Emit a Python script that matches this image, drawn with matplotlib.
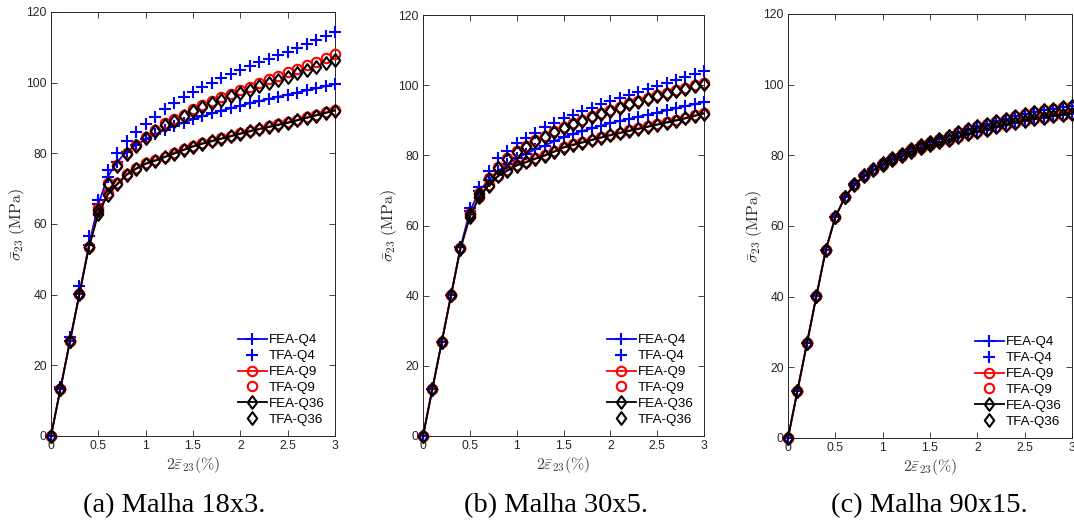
import matplotlib
matplotlib.use("Agg")
import matplotlib.pyplot as plt
from matplotlib.path import Path

plt.rcParams['font.family'] = ['Liberation Sans', 'DejaVu Sans']
plt.rcParams['mathtext.fontset'] = 'cm'

# ---------------- data ----------------
strain = [0.0, 0.1, 0.2, 0.3, 0.4, 0.5, 0.6, 0.7, 0.8, 0.9, 1.0,
          1.1, 1.2, 1.3, 1.4, 1.5, 1.6, 1.7, 1.8, 1.9, 2.0,
          2.1, 2.2, 2.3, 2.4, 2.5, 2.6, 2.7, 2.8, 2.9, 3.0]

# (a) Malha 18x3
a_fea_q4 = [0, 13.4, 26.8, 40.2, 54.0, 65.6, 73.4, 77.6, 80.5, 82.4, 84.0,
            85.4, 86.6, 87.7, 88.7, 89.7, 90.5, 91.3, 92.1, 92.8, 93.5,
            94.2, 94.8, 95.4, 96.0, 96.6, 97.2, 97.8, 98.4, 99.0, 99.6]
a_tfa_q4 = [0, 13.8, 28.1, 42.4, 56.5, 66.8, 75.3, 80.0, 83.6, 86.1, 88.3,
            90.4, 92.5, 94.2, 95.9, 97.5, 98.8, 100.0, 101.2, 102.4, 103.6,
            104.7, 105.8, 106.8, 107.8, 108.8, 109.9, 110.9, 112.0, 113.1, 114.2]
a_fea_q9 = [0, 13.4, 26.8, 40.2, 53.5, 63.5, 68.7, 71.5, 74.2, 75.8, 77.2,
            78.1, 79.1, 80.2, 81.1, 82.1, 82.9, 83.6, 84.3, 85.0, 85.7,
            86.4, 87.0, 87.6, 88.2, 88.8, 89.5, 90.2, 90.9, 91.6, 92.3]
a_tfa_q9 = [0, 13.4, 26.8, 40.2, 53.6, 64.5, 71.7, 76.7, 80.2, 82.4, 84.7,
            86.6, 88.5, 89.6, 90.9, 92.6, 93.7, 94.8, 95.9, 96.9, 97.9,
            98.9, 99.9, 100.9, 101.9, 102.9, 103.9, 104.9, 105.9, 107.0, 108.0]
a_fea_q36 = [0, 13.4, 26.8, 40.2, 53.4, 62.9, 68.3, 71.2, 73.9, 75.6, 77.0,
             77.9, 78.9, 79.9, 80.9, 81.9, 82.7, 83.4, 84.1, 84.8, 85.5,
             86.2, 86.8, 87.4, 88.0, 88.6, 89.3, 90.0, 90.7, 91.4, 92.1]
a_tfa_q36 = [0, 13.4, 26.8, 40.2, 53.5, 64.0, 71.4, 76.4, 79.9, 82.1, 84.4,
             86.3, 88.1, 89.2, 90.5, 92.1, 93.2, 94.2, 95.2, 96.2, 97.1,
             98.0, 99.0, 99.9, 100.8, 101.7, 102.7, 103.6, 104.5, 105.5, 106.4]

# (b) Malha 30x5
b_fea_q4 = [0, 13.4, 26.8, 40.2, 53.8, 64.0, 69.8, 73.0, 75.5, 77.5, 79.1,
            80.5, 81.7, 82.8, 84.0, 85.2, 86.1, 86.9, 87.7, 88.5, 89.2,
            89.8, 90.4, 91.0, 91.6, 92.2, 92.8, 93.4, 94.0, 94.6, 95.2]
b_tfa_q4 = [0, 13.4, 26.9, 40.3, 54.0, 64.9, 71.1, 75.5, 79.2, 81.2, 83.4,
            85.0, 86.5, 88.0, 89.1, 90.6, 91.6, 92.6, 93.6, 94.5, 95.4,
            96.3, 97.2, 98.1, 98.9, 99.8, 100.6, 101.5, 102.4, 103.3, 104.1]
b_fea_q9 = [0, 13.4, 26.8, 40.2, 53.5, 62.7, 68.2, 71.6, 74.2, 75.8, 77.3,
            78.2, 79.2, 80.1, 81.2, 82.4, 83.1, 83.8, 84.5, 85.2, 85.9,
            86.5, 87.1, 87.7, 88.3, 88.9, 89.5, 90.1, 90.7, 91.4, 92.1]
b_tfa_q9 = [0, 13.4, 26.8, 40.2, 53.6, 63.5, 69.2, 73.6, 76.8, 79.2, 81.2,
            82.7, 84.4, 85.5, 87.0, 88.0, 89.1, 90.1, 91.1, 92.1, 93.0,
            93.9, 94.8, 95.6, 96.4, 97.2, 97.9, 98.6, 99.3, 100.0, 100.7]
b_fea_q36 = [0, 13.4, 26.8, 40.2, 53.4, 62.5, 68.0, 71.4, 74.0, 75.6, 77.1,
             78.0, 79.0, 79.9, 81.0, 82.2, 82.9, 83.6, 84.3, 85.0, 85.7,
             86.3, 86.9, 87.5, 88.1, 88.7, 89.3, 89.9, 90.5, 91.2, 91.9]
b_tfa_q36 = [0, 13.4, 26.8, 40.2, 53.5, 63.2, 68.9, 73.3, 76.5, 78.9, 80.9,
             82.4, 84.1, 85.2, 86.7, 87.7, 88.8, 89.8, 90.8, 91.8, 92.7,
             93.6, 94.5, 95.3, 96.1, 96.9, 97.6, 98.3, 99.0, 99.7, 100.3]

# (c) Malha 90x15
c_fea_q4 = [0, 13.4, 26.8, 40.2, 53.3, 62.5, 68.1, 71.6, 74.1, 75.8, 77.4,
            78.7, 79.8, 81.0, 82.0, 82.9, 83.7, 84.4, 85.2, 86.0, 86.7,
            87.3, 88.0, 88.6, 89.2, 89.7, 90.2, 90.7, 91.1, 91.5, 91.8]
c_tfa_q4 = [0, 13.4, 26.8, 40.2, 53.3, 62.6, 68.3, 71.8, 74.4, 76.1, 77.8,
            79.2, 80.4, 81.7, 82.8, 83.8, 84.7, 85.6, 86.5, 87.4, 88.2,
            88.9, 89.7, 90.4, 91.0, 91.7, 92.2, 92.7, 93.2, 93.6, 94.0]
c_fea_q9 = [0, 13.4, 26.8, 40.2, 53.3, 62.5, 68.1, 71.6, 74.1, 75.8, 77.4,
            78.7, 79.8, 81.0, 82.0, 82.9, 83.7, 84.4, 85.2, 86.0, 86.7,
            87.3, 88.0, 88.6, 89.2, 89.7, 90.2, 90.7, 91.1, 91.5, 91.8]
c_tfa_q9 = [0, 13.4, 26.8, 40.2, 53.3, 62.6, 68.3, 71.8, 74.4, 76.1, 77.8,
            79.2, 80.4, 81.7, 82.8, 83.8, 84.7, 85.6, 86.5, 87.4, 88.2,
            88.9, 89.7, 90.4, 91.0, 91.7, 92.2, 92.7, 93.2, 93.6, 94.0]
c_fea_q36 = [0, 13.4, 26.8, 40.2, 53.3, 62.5, 68.1, 71.6, 74.1, 75.8, 77.4,
             78.7, 79.8, 81.0, 82.0, 82.9, 83.7, 84.4, 85.2, 86.0, 86.7,
             87.3, 88.0, 88.6, 89.2, 89.7, 90.2, 90.7, 91.1, 91.5, 91.8]
c_tfa_q36 = [0, 13.4, 26.8, 40.2, 53.3, 62.6, 68.3, 71.8, 74.4, 76.1, 77.8,
             79.2, 80.4, 81.7, 82.8, 83.8, 84.7, 85.6, 86.5, 87.4, 88.2,
             88.9, 89.7, 90.4, 91.0, 91.7, 92.2, 92.7, 93.2, 93.6, 94.0]

labels = ['FEA-Q4', 'TFA-Q4', 'FEA-Q9', 'TFA-Q9', 'FEA-Q36', 'TFA-Q36']
captions = ['(a) Malha 18x3.', '(b) Malha 30x5.', '(c) Malha 90x15.']
x_ticks = [0, 0.5, 1, 1.5, 2, 2.5, 3]
x_ticklabels = ['0', '0.5', '1', '1.5', '2', '2.5', '3']
y_ticks = [0, 20, 40, 60, 80, 100, 120]

panels = [
    [a_fea_q4, a_tfa_q4, a_fea_q9, a_tfa_q9, a_fea_q36, a_tfa_q36],
    [b_fea_q4, b_tfa_q4, b_fea_q9, b_tfa_q9, b_fea_q36, b_tfa_q36],
    [c_fea_q4, c_tfa_q4, c_fea_q9, c_tfa_q9, c_fea_q36, c_tfa_q36],
]

# ---------------- styling ----------------
diamond = Path([(0, 1), (0.74, 0), (0, -1), (-0.74, 0), (0, 1)],
               [Path.MOVETO, Path.LINETO, Path.LINETO, Path.LINETO,
                Path.CLOSEPOLY])
colors = ['#0000ff', '#0000ff', '#ff0000', '#ff0000', '#000000', '#000000']
markers = ['+', '+', 'o', 'o', diamond, diamond]
msizes = [8.5, 8.5, 6.8, 6.8, 9.2, 9.2]
is_line = [True, False, True, False, True, False]
txt_col = '#262626'

fig = plt.figure(figsize=(10.74, 5.29), dpi=100)
W, H = 1074.0, 529.0
boxes = [(51, 12, 335, 436), (423, 15, 704, 436), (788, 14, 1072, 438)]
cap_x = [174, 556, 929]

for pi, (series, box) in enumerate(zip(panels, boxes)):
    l, t, r, b = box
    ax = fig.add_axes([l / W, 1 - b / H, (r - l) / W, (b - t) / H])
    handles = []
    for si, vals in enumerate(series):
        h, = ax.plot(strain, vals,
                     linestyle='-' if is_line[si] else 'none',
                     linewidth=1.3, color=colors[si],
                     marker=markers[si], markersize=msizes[si],
                     markerfacecolor='none', markeredgecolor=colors[si],
                     markeredgewidth=1.5, label=labels[si], clip_on=False,
                     zorder=3)
        handles.append(h)
    ax.set_xlim(0, 3)
    ax.set_ylim(0, 120)
    ax.set_xticks(x_ticks)
    ax.set_xticklabels(x_ticklabels)
    ax.set_yticks(y_ticks)
    ax.tick_params(direction='in', length=4, width=0.6, colors=txt_col,
                   labelsize=8.7, top=True, right=True, pad=3)
    for sp in ax.spines.values():
        sp.set_color(txt_col)
        sp.set_linewidth(0.7)
    ax.set_ylabel(r'$\bar{\sigma}_{23}\ \mathrm{(MPa)}$', fontsize=11.5,
                  color=txt_col, labelpad=-0.5)
    ax.set_xlabel(r'$2\bar{\varepsilon}_{23}(\%)$', fontsize=11.5,
                  color='#404040', labelpad=2)
    ax.legend(handles=handles, loc='lower right', frameon=False,
              fontsize=9.6, handlelength=2.2, handletextpad=0.15,
              labelspacing=0.27, borderaxespad=0.35)
    fig.text(cap_x[pi] / W, 1 - 506 / H, captions[pi], ha='center',
             va='center', fontsize=20.5, family='Liberation Serif')

fig.savefig('out.png', dpi=100)
